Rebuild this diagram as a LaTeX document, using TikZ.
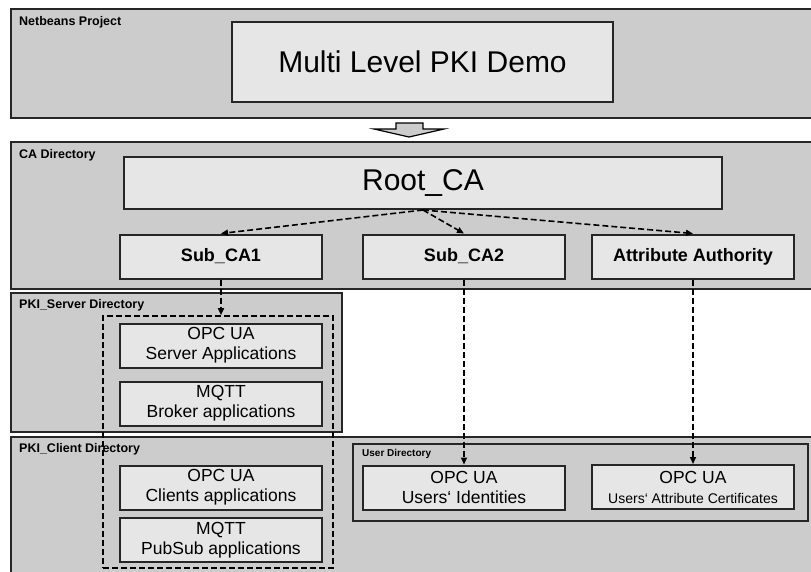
\documentclass[tikz,border=0pt]{standalone}
\usepackage{fontspec}
\setmainfont{Liberation Sans}
\usetikzlibrary{arrows.meta}
\definecolor{dirgray}{RGB}{204,204,204}
\definecolor{boxgray}{RGB}{230,230,230}

\begin{document}
\begin{tikzpicture}
        [x=1pt, y=-1pt,
        dir/.style={draw=black!85, line width=2pt, fill=dirgray, anchor=north west, inner sep=0pt},
        box/.style={draw=black!85, line width=2pt, fill=boxgray, minimum width=202pt, minimum height=44pt, inner sep=0pt, align=center, font=\fontsize{17.5}{20}\selectfont},
        ca/.style={box, font=\fontsize{18}{20}\selectfont\bfseries},
        big/.style={box, font=\fontsize{30}{34}\selectfont},
        dirlabel/.style={anchor=base west, inner sep=0pt, font=\fontsize{12.5}{14}\selectfont\bfseries},
        link/.style={line width=1.6pt, dash pattern=on 6pt off 3pt, -{Triangle[length=7pt,width=6pt]}}]

        \clip (0,0) rectangle (811,571);
        \fill[white] (0,0) rectangle (811,571);

        % Directories
        \node[dir, minimum width=806pt, minimum height=109pt] (netbeans) at (9.5,8) {};
        \node[dir, minimum width=805pt, minimum height=147pt] (cadir) at (10,141) {};
        \node[dir, minimum width=331pt, minimum height=139pt] (serverdir) at (10,292) {};
        \node[dir, minimum width=805pt, minimum height=140pt] (clientdir) at (10,436) {};
        \node[dir, minimum width=455pt, minimum height=77pt] (userdir) at (352,443) {};

        % Labels of the directories
        \node[dirlabel] (lnetbeans) at (19,25) {Netbeans Project};
        \node[dirlabel] (lcadir) at (19,158) {CA Directory};
        \node[dirlabel] (lserverdir) at (19,308) {PKI\_Server Directory};
        \node[dirlabel] (lclientdir) at (19,452) {PKI\_Client Directory};
        \node[dirlabel, font=\fontsize{10}{12}\selectfont\bfseries] (luserdir) at (362,456) {User Directory};

        % Project and CAs
        \node[big, minimum width=381pt, minimum height=80pt] (demo) at (422.5,62) {Multi Level PKI Demo};
        \node[big, minimum width=598pt, minimum height=52pt] (root) at (423,183) {Root\_CA};
        \node[ca] (sub1) at (221,256.5) {Sub\_CA1};
        \node[ca] (sub2) at (464,256.5) {Sub\_CA2};
        \node[ca] (aa) at (693,256.5) {Attribute Authority};

        % hollow arrow between project and CA Directory
        \draw[line width=1.2pt, fill=dirgray] (396,123) -- (423,123) -- (423,129) -- (444,129) -- (409,137) -- (374,129) -- (396,129) -- cycle;

        % Applications
        \node[box] (server) at (221,345.5) {OPC UA\\Server Applications};
        \node[box] (broker) at (221,403.5) {MQTT\\Broker applications};
        \node[box] (clients) at (221,487.5) {OPC UA\\Clients applications};
        \node[box] (pubsub) at (221,540) {MQTT\\PubSub applications};
        \node[draw, line width=1.6pt, dash pattern=on 6pt off 3pt, minimum width=230pt, minimum height=252pt, inner sep=0pt] (apps) at (218,442) {};

        % Users
        \node[box] (ident) at (464,487.5) {OPC UA\\Users‘ Identities};
        \node[box] (attr) at (693,487) {OPC UA\\{\fontsize{14}{16}\selectfont Users‘ Attribute Certificates}};

        % certificate links
        \draw[link] (root.south) -- (sub1.north);
        \draw[link] (root.south) -- (sub2.north);
        \draw[link] (root.south) -- (aa.north);
        \draw[link] (sub1.south) -- (sub1.south |- apps.north);
        \draw[link] (sub2.south) -- (ident.north);
        \draw[link] (aa.south) -- (attr.north);

    \end{tikzpicture}
\end{document}
